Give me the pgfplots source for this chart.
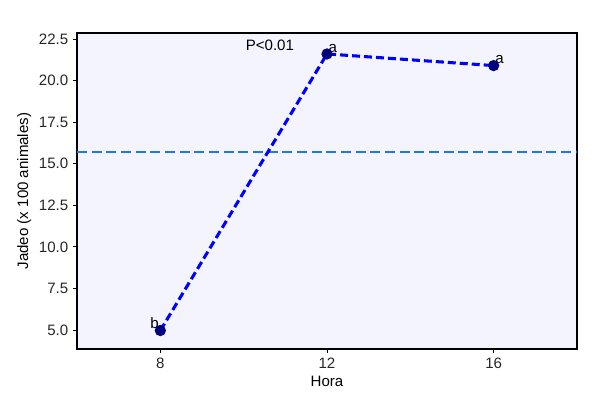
\documentclass[border=0pt]{standalone}
\usepackage{fontspec}
\setmainfont{Liberation Sans}
\usepackage{pgfplots}
\pgfplotsset{compat=1.18}
\definecolor{bgc}{HTML}{F4F4FF}
\definecolor{navy}{HTML}{00007F}
\begin{document}
\begin{tikzpicture}
\path[use as bounding box] (-57.75pt,-42.75pt) rectangle (398.25pt,261.75pt);
\begin{axis}[
  scale only axis, width=375pt, height=237pt,
  xmin=6, xmax=18, ymin=3.86, ymax=22.86,
  xtick={8,12,16}, ytick={5,7.5,10,12.5,15,17.5,20,22.5},
  yticklabel style={/pgf/number format/.cd,fixed,fixed zerofill,precision=1},
  /pgf/number format/assume math mode=true,
  tick align=outside, tick style={black, line width=0.6pt},
  major tick length=3pt,
  xtick pos=bottom, ytick pos=left,
  axis background/.style={fill=bgc},
  axis line style={black, line width=0.8pt},
  tick label style={font=\fontsize{11.3}{13}\selectfont, text=black!85},
  label style={font=\fontsize{11.3}{13}\selectfont},
  xlabel={Hora}, ylabel={Jadeo (x 100 animales)},
  xlabel style={yshift=1pt},
  ylabel style={yshift=-1pt},
  clip=false,
]
\addplot[color={rgb,255:red,30;green,120;blue,230}, line width=1.4pt, dash pattern=on 7.5pt off 3.5pt] coordinates {(6,15.73) (18,15.73)};
\addplot[color=blue, line width=2.3pt, dash pattern=on 6pt off 3pt, mark=*, mark size=3pt, mark options={solid, fill=navy, draw=navy}]
  coordinates {(8,4.97) (12,21.6) (16,20.9)};
\node[font=\fontsize{11.3}{13}\selectfont, anchor=south east, inner sep=1pt] at (axis cs:8,4.97) {b};
\node[font=\fontsize{11.3}{13}\selectfont, anchor=south west, inner sep=1pt] at (axis cs:12,21.6) {a};
\node[font=\fontsize{11.3}{13}\selectfont, anchor=south west, inner sep=1pt] at (axis cs:16,20.9) {a};
\node[font=\fontsize{11.3}{13}\selectfont] at (axis cs:10.63,22.13) {P<0.01};
\end{axis}
\end{tikzpicture}
\end{document}
